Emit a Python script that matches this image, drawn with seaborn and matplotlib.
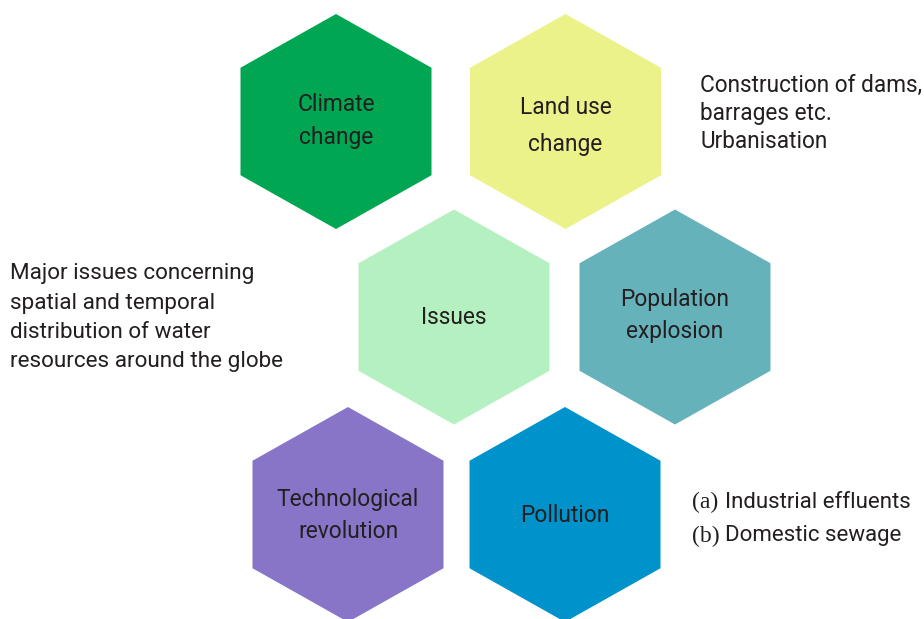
import matplotlib
matplotlib.use("Agg")
import matplotlib.pyplot as plt
from matplotlib.patches import Polygon
import numpy as np
import seaborn as sns

sns.set_theme(style="white")
plt.rcParams['font.family'] = ['Roboto', 'DejaVu Sans']

# Data
labels = ["Climate\nchange", "Land use\nchange", "Issues", "Population\nexplosion",
          "Technological\nrevolution", "Pollution"]
colors = ["#00A651", "#ECF28A", "#B5F0C0", "#66B2BA", "#8875C7", "#0093CB"]
left_note = ["Major issues concerning", "spatial and temporal",
             "distribution of water", "resources around the globe"]
right_note = ["Construction of dams,", "barrages etc.", "Urbanisation"]
pollution_marks = ["(a)", "(b)"]
pollution_items = ["Industrial effluents", "Domestic sewage"]

# Layout (pixel positions of hexagon centres, label centres, line spacing)
hex_x = [336, 565.5, 454, 675, 348, 565]
hex_y = [121.5, 121.5, 317, 317, 514.5, 514.5]
lab_y = [121, 126, 318, 315.5, 515.5, 516]
lab_ls = [1.55, 1.75, 1.0, 1.5, 1.5, 1.0]

W, H = 924, 619
fig = plt.figure(figsize=(W / 100, H / 100), dpi=100)
ax = fig.add_axes([0, 0, 1, 1])
ax.set_xlim(0, W)
ax.set_ylim(H, 0)
ax.axis("off")

HW, HH = 95.5, 107.5
ang = np.deg2rad(np.arange(90, 450, 60))
for lab, c, cx, cy, ty, ls in zip(labels, colors, hex_x, hex_y, lab_y, lab_ls):
    verts = np.column_stack([cx + HW / (np.sqrt(3) / 2) * np.cos(ang),
                             cy - HH * np.sin(ang)])
    ax.add_patch(Polygon(verts, closed=True, facecolor=c, edgecolor="none"))
    ax.text(cx, ty, lab, ha="center", va="center", fontsize=16.4,
            color="#231F20", linespacing=ls)

for i, t in enumerate(left_note):
    ax.text(10, 274 + i * 29, t, ha="left", va="center", fontsize=16.2, color="#231F20")
for i, t in enumerate(right_note):
    ax.text(700, 85 + i * 28.5, t, ha="left", va="center", fontsize=16.3, color="#231F20")
for i, (m, t) in enumerate(zip(pollution_marks, pollution_items)):
    y = 502 + i * 34
    ax.text(692, y, m, ha="left", va="center", fontsize=17, color="#231F20",
            family=["Liberation Serif", "DejaVu Serif"])
    ax.text(725, y, t, ha="left", va="center", fontsize=16, color="#231F20")

fig.savefig("out.png", dpi=100)
